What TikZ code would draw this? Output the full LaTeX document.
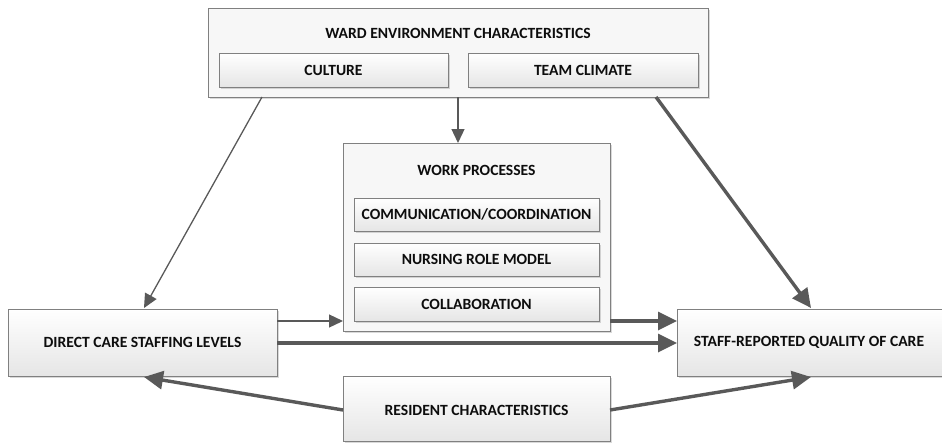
\documentclass[tikz,border=0pt]{standalone}
\usepackage{fontspec}
\setmainfont{Carlito}
\usetikzlibrary{arrows.meta,shadows,calc}
\definecolor{edge}{HTML}{808080}
\definecolor{arrowc}{HTML}{595959}
\tikzset{
  x=1pt, y=-1pt,
  panel/.style={draw=edge, line width=0.8pt, fill=black!3,
    drop shadow={shadow xshift=2pt, shadow yshift=-2pt, opacity=0.15, fill=black}},
  gbox/.style={draw=edge, line width=0.8pt, top color=white, bottom color=black!10,
    drop shadow={shadow xshift=2pt, shadow yshift=-2pt, opacity=0.15, fill=black}},
  lbl/.style={font=\bfseries\fontsize{15.6}{18}\selectfont, text=black!95},
  thinarr/.style={draw=arrowc, line width=1.3pt, -{Triangle[length=14pt,width=13pt]}},
  thickarr/.style={draw=arrowc, line width=3.4pt, -{Triangle[length=19pt,width=18pt]}},
}
\begin{document}
\begin{tikzpicture}
\useasboundingbox (0,0) rectangle (942,442);
% ward environment panel
\path[panel] (208,8) rectangle (708,97);
\node[lbl] (wardt) at (458,33) {WARD ENVIRONMENT CHARACTERISTICS};
\path[gbox] (219,53) rectangle (448,87);
\node[lbl] (culture) at (333.5,70) {CULTURE};
\path[gbox] (468,53) rectangle (698,87);
\node[lbl] (team) at (583,70) {TEAM CLIMATE};
% work processes panel
\path[panel] (343,143) rectangle (610,331);
\node[lbl] (wpt) at (476.5,170) {WORK PROCESSES};
\path[gbox] (354,198) rectangle (599,231);
\node[lbl] (comm) at (476.5,214.5) {COMMUNICATION/COORDINATION};
\path[gbox] (354,243) rectangle (599,276);
\node[lbl] (nurse) at (476.5,259.5) {NURSING ROLE MODEL};
\path[gbox] (354,287) rectangle (599,321);
\node[lbl] (collab) at (476.5,304) {COLLABORATION};
% outcome and input boxes
\path[gbox] (8,309) rectangle (277,376);
\node[lbl] (direct) at (142.5,342.5) {DIRECT CARE STAFFING LEVELS};
\path[gbox] (677,309) rectangle (950,376);
\node[lbl] (staff) at (809,342.5) {STAFF-REPORTED QUALITY OF CARE};
\path[gbox] (343,376) rectangle (610,441);
\node[lbl] (resident) at (476.5,410) {RESIDENT CHARACTERISTICS};
% connector end points on the box edges
\coordinate (wardL) at (262,97);
\coordinate (wardM) at (458,97);
\coordinate (wardR) at (656,97);
\coordinate (wpTop) at (458,143);
\coordinate (wpL) at (343,321);
\coordinate (wpR) at (610,321);
\coordinate (dirTop) at (144,308);
\coordinate (dirR1) at (277,321);
\coordinate (dirR2) at (277,343);
\coordinate (dirBot) at (144,377);
\coordinate (stTop) at (811,308);
\coordinate (stL1) at (677,321);
\coordinate (stL2) at (677,343);
\coordinate (stBot) at (811,377);
\coordinate (resL) at (343,410);
\coordinate (resR) at (610,410);
% connectors
\draw[thinarr] (wardL) -- (dirTop);
\draw[thinarr] (wardM) -- (wpTop);
\draw[thickarr] (wardR) -- (stTop);
\draw[thinarr] (dirR1) -- (wpL);
\draw[thickarr] (wpR) -- (stL1);
\draw[thickarr] (dirR2) -- (stL2);
\draw[thickarr] (resL) -- (dirBot);
\draw[thickarr] (resR) -- (stBot);
\end{tikzpicture}
\end{document}
